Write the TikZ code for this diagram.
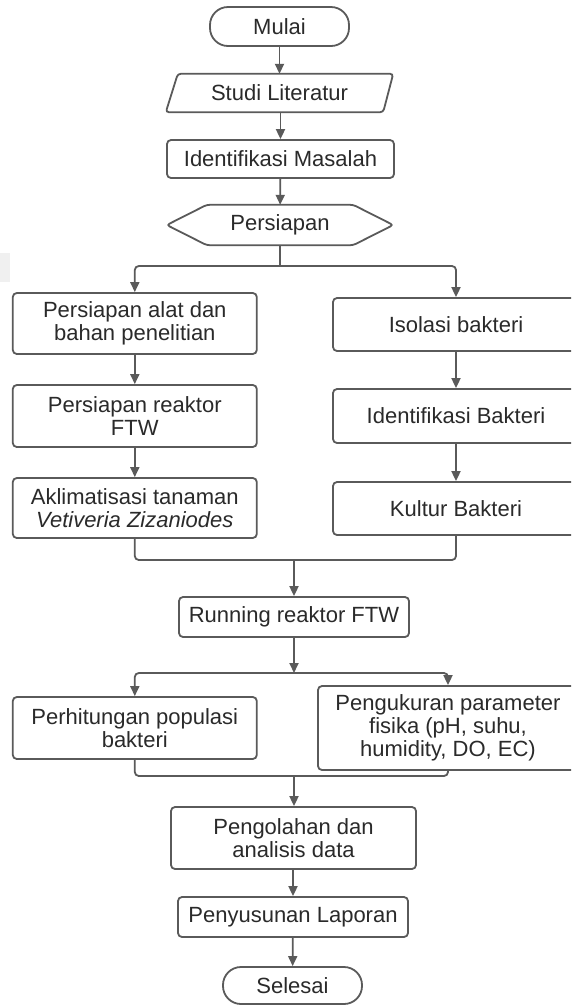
\documentclass[tikz,border=0pt]{standalone}
\usepackage{fontspec}
\setmainfont{Liberation Sans}
\usetikzlibrary{arrows.meta,calc}
\definecolor{linec}{HTML}{5A5A5A}
\definecolor{txt}{HTML}{2A2A2A}
\newcommand{\flowfont}{\fontsize{22}{23}\selectfont}
\tikzset{
  stepbox/.style={draw=linec, line width=1.8pt, rounded corners=4pt, fill=white,
    text=txt, align=center, inner sep=0pt, font=\flowfont},
  terminal/.style={stepbox, rounded corners=18pt},
  textonly/.style={text=txt, align=center, inner sep=0pt, font=\flowfont},
  outline/.style={draw=linec, line width=1.8pt, rounded corners=3pt, fill=white},
  link/.style={draw=linec, line width=1.8pt, rounded corners=4pt},
  arrowlink/.style={link, -{Triangle[length=10pt,width=9pt]}},
}
\begin{document}
\begin{tikzpicture}[x=1pt,y=-1pt]
  \useasboundingbox (0,0) rectangle (571,1005);
  \clip (0,0) rectangle (571,1005);
  \fill[white] (0,0) rectangle (571,1005);
  \fill[black!6] (0,253) rectangle (10,282);

  % main column, top part
  \node[terminal, minimum width=139, minimum height=39] (mulai) at (279.5,26.5) {Mulai};

  \node[textonly, minimum width=227, minimum height=38] (studi) at (279.5,93) {};
  \draw[outline] ($(studi.north west)+(12,0)$) -- (studi.north east)
    -- ($(studi.south east)+(-10,0)$) -- (studi.south west) -- cycle;
  \node[textonly] at (studi.center) {Studi Literatur};

  \node[stepbox, minimum width=227, minimum height=38] (ident) at (280.5,159) {Identifikasi Masalah};

  \node[textonly, minimum width=226, minimum height=40] (siap) at (280,225) {};
  \draw[outline] (siap.west) -- ($(siap.north west)+(40,0)$) -- ($(siap.north east)+(-40,0)$)
    -- (siap.east) -- ($(siap.south east)+(-40,0)$) -- ($(siap.south west)+(40,0)$) -- cycle;
  \node[textonly] at (siap.center) {Persiapan};

  % two parallel branches
  \node[stepbox, minimum width=244, minimum height=61] (alat) at (134.8,323.5)
    {Persiapan alat dan\\bahan penelitian};
  \node[stepbox, minimum width=244, minimum height=62] (reaktor) at (134.8,416)
    {Persiapan reaktor\\FTW};
  \node[stepbox, minimum width=244, minimum height=60] (aklim) at (134.8,508)
    {Aklimatisasi tanaman\\\textit{Vetiveria Zizaniodes}};

  \node[stepbox, minimum width=246, minimum height=53] (isolasi) at (456,324.5) {Isolasi bakteri};
  \node[stepbox, minimum width=246, minimum height=54] (identb) at (456,416) {Identifikasi Bakteri};
  \node[stepbox, minimum width=246, minimum height=53] (kultur) at (456,508.5) {Kultur Bakteri};

  % main column, lower part
  \node[stepbox, minimum width=230, minimum height=40] (running) at (294,617) {Running reaktor FTW};

  \node[stepbox, minimum width=244, minimum height=62] (hitung) at (134.8,728)
    {Perhitungan populasi\\bakteri};
  \node[stepbox, minimum width=260, minimum height=84] (ukur) at (448,728)
    {Pengukuran parameter\\fisika (pH, suhu,\\humidity, DO, EC)};

  \node[stepbox, minimum width=245, minimum height=62] (olah) at (293.5,838)
    {Pengolahan dan\\analisis data};
  \node[stepbox, minimum width=230, minimum height=40] (lapor) at (293,917) {Penyusunan Laporan};
  \node[terminal, minimum width=139, minimum height=37] (selesai) at (292.5,985.5) {Selesai};

  % junction points
  \coordinate (split1) at (280,266);
  \coordinate (merge1) at (294,560);
  \coordinate (split2) at (294,673);
  \coordinate (merge2) at (294,776);

  % connectors
  \draw[arrowlink] (mulai) -- (mulai |- studi.north);
  \draw[arrowlink] (studi.south -| ident) -- (ident);
  \draw[arrowlink] (ident) -- (siap);
  \draw[link] (siap.south) -- (split1);
  \draw[arrowlink] (split1) -| (alat.north);
  \draw[arrowlink] (split1) -| (isolasi.north);
  \draw[arrowlink] (alat) -- (reaktor);
  \draw[arrowlink] (reaktor) -- (aklim);
  \draw[arrowlink] (isolasi) -- (identb);
  \draw[arrowlink] (identb) -- (kultur);
  \draw[link] (aklim.south) |- (merge1);
  \draw[link] (kultur.south) |- (merge1);
  \draw[arrowlink] (merge1) -- (running);
  \draw[arrowlink] (running) -- (split2);
  \draw[arrowlink] (split2) -| (hitung.north);
  \draw[arrowlink] (split2) -| (ukur.north);
  \draw[link] (hitung.south) |- (merge2);
  \draw[link] (ukur.south) |- (merge2);
  \draw[arrowlink] (merge2) -- (olah.north -| merge2);
  \draw[arrowlink] (olah.south -| lapor) -- (lapor);
  \draw[arrowlink] (lapor) -- (selesai);
\end{tikzpicture}
\end{document}
